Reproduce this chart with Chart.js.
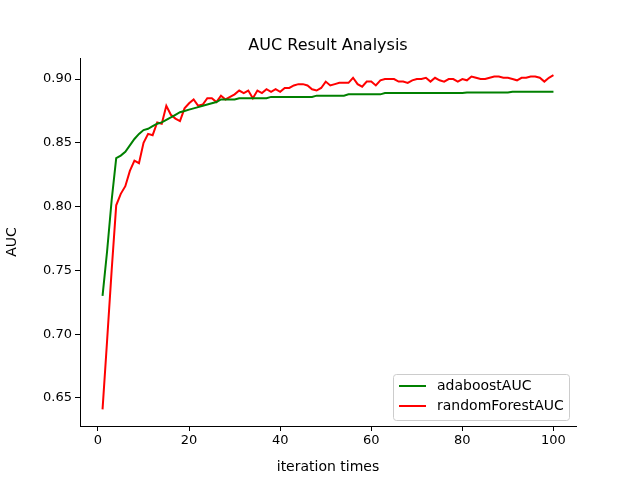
<!DOCTYPE html>
<html>
<head>
<meta charset="utf-8">
<script src="https://cdn.jsdelivr.net/npm/chart.js@4/dist/chart.umd.min.js"></script>
<style>
  html, body { margin: 0; padding: 0; background: #fff; }
  #wrap { width: 640px; height: 480px; }
</style>
</head>
<body>
<div id="wrap"><canvas id="chart"></canvas></div>
<script>
// Data
const iterations = Array.from({ length: 100 }, (_, i) => i + 1);

const adaboostAUC = [
  0.730, 0.765, 0.805, 0.838, 0.840, 0.843, 0.848, 0.853, 0.857, 0.860,
  0.861, 0.863, 0.865, 0.866, 0.868, 0.870, 0.872, 0.874, 0.875, 0.876,
  0.877, 0.878, 0.879, 0.880, 0.881, 0.882, 0.884, 0.884, 0.884, 0.884,
  0.885, 0.885, 0.885, 0.885, 0.885, 0.885, 0.885, 0.886, 0.886, 0.886,
  0.886, 0.886, 0.886, 0.886, 0.886, 0.886, 0.886, 0.887, 0.887, 0.887,
  0.887, 0.887, 0.887, 0.887, 0.888, 0.888, 0.888, 0.888, 0.888, 0.888,
  0.888, 0.888, 0.889, 0.889, 0.889, 0.889, 0.889, 0.889, 0.889, 0.889,
  0.889, 0.889, 0.889, 0.889, 0.889, 0.889, 0.889, 0.889, 0.889, 0.889,
  0.8895, 0.8895, 0.8895, 0.8895, 0.8895, 0.8895, 0.8895, 0.8895, 0.8895, 0.8895,
  0.890, 0.890, 0.890, 0.890, 0.890, 0.890, 0.890, 0.890, 0.890, 0.890
];

const randomForestAUC = [
  0.641, 0.695, 0.750, 0.801, 0.810, 0.816, 0.828, 0.836, 0.834, 0.850,
  0.857, 0.856, 0.866, 0.865, 0.879, 0.872, 0.869, 0.867, 0.877, 0.881,
  0.884, 0.879, 0.880, 0.885, 0.885, 0.882, 0.887, 0.884, 0.886, 0.888,
  0.891, 0.889, 0.891, 0.885, 0.891, 0.889, 0.892, 0.890, 0.892, 0.890,
  0.893, 0.893, 0.895, 0.896, 0.896, 0.895, 0.892, 0.891, 0.893, 0.898,
  0.895, 0.896, 0.897, 0.897, 0.897, 0.901, 0.896, 0.894, 0.898, 0.898,
  0.895, 0.899, 0.900, 0.900, 0.900, 0.898, 0.898, 0.897, 0.899, 0.900,
  0.900, 0.901, 0.898, 0.901, 0.899, 0.898, 0.900, 0.900, 0.898, 0.900,
  0.899, 0.902, 0.901, 0.900, 0.900, 0.901, 0.902, 0.902, 0.901, 0.901,
  0.900, 0.899, 0.901, 0.901, 0.902, 0.902, 0.901, 0.898, 0.901, 0.903
];

const xTicks = [0, 20, 40, 60, 80, 100];
const yTicks = [0.65, 0.70, 0.75, 0.80, 0.85, 0.90];

const FONT = 'DejaVu Sans';

// Titulo y leyenda dibujados a mano (estilo matplotlib)
const decorPlugin = {
  id: 'decor',
  afterDraw(chart) {
    const ctx = chart.ctx;
    const area = chart.chartArea;
    ctx.save();
    ctx.fillStyle = '#000';
    ctx.textAlign = 'center';
    ctx.textBaseline = 'alphabetic';
    ctx.font = '16px ' + FONT;
    ctx.fillText('AUC Result Analysis', (area.left + area.right) / 2, 50);

    // Leyenda abajo a la derecha
    const bx = 393, by = 374, bw = 176, bh = 46;
    ctx.fillStyle = 'rgba(255,255,255,0.8)';
    ctx.strokeStyle = '#cccccc';
    ctx.lineWidth = 1;
    ctx.beginPath();
    ctx.roundRect(bx + 0.5, by + 0.5, bw, bh, 3);
    ctx.fill();
    ctx.stroke();
    ctx.font = '14px ' + FONT;
    ctx.textAlign = 'left';
    ctx.textBaseline = 'middle';
    chart.data.datasets.forEach((ds, i) => {
      const y = by + 12 + i * 20;
      ctx.strokeStyle = ds.borderColor;
      ctx.lineWidth = 2;
      ctx.beginPath();
      ctx.moveTo(bx + 6, y);
      ctx.lineTo(bx + 33, y);
      ctx.stroke();
      ctx.fillStyle = '#000';
      ctx.fillText(ds.label, bx + 44, y);
    });
    ctx.restore();
  }
};

new Chart(document.getElementById('chart'), {
  type: 'line',
  data: {
    datasets: [
      {
        label: 'adaboostAUC',
        data: iterations.map((x, i) => ({ x, y: adaboostAUC[i] })),
        borderColor: 'green',
        borderWidth: 2,
        pointRadius: 0,
        tension: 0
      },
      {
        label: 'randomForestAUC',
        data: iterations.map((x, i) => ({ x, y: randomForestAUC[i] })),
        borderColor: 'red',
        borderWidth: 2,
        pointRadius: 0,
        tension: 0
      }
    ]
  },
  options: {
    responsive: true,
    maintainAspectRatio: false,
    animation: false,
    layout: { padding: { top: 58, right: 64, left: 0, bottom: 0 } },
    plugins: {
      legend: { display: false },
      title: { display: false },
      tooltip: { enabled: false }
    },
    scales: {
      x: {
        type: 'linear',
        min: -3.95,
        max: 104.95,
        afterBuildTicks: s => { s.ticks = xTicks.map(v => ({ value: v })); },
        afterFit: s => { s.height = 54; },
        grid: { drawOnChartArea: false, color: '#000', tickLength: 5, tickWidth: 1 },
        border: { color: '#000', width: 1 },
        ticks: { color: '#000', font: { family: FONT, size: 13 }, padding: 2, maxRotation: 0 },
        title: { display: true, text: 'iteration times', color: '#000', font: { family: FONT, size: 14 }, padding: { top: 0 } }
      },
      y: {
        min: 0.628,
        max: 0.9165,
        afterBuildTicks: s => { s.ticks = yTicks.map(v => ({ value: v })); },
        afterFit: s => { s.width = 80; },
        grid: { drawOnChartArea: false, color: '#000', tickLength: 5, tickWidth: 1 },
        border: { color: '#000', width: 1 },
        ticks: { color: '#000', font: { family: FONT, size: 13 }, padding: 3, callback: v => v.toFixed(2) },
        title: { display: true, text: 'AUC', color: '#000', font: { family: FONT, size: 14 }, padding: { bottom: 4 } }
      }
    }
  },
  plugins: [decorPlugin]
});
</script>
</body>
</html>
